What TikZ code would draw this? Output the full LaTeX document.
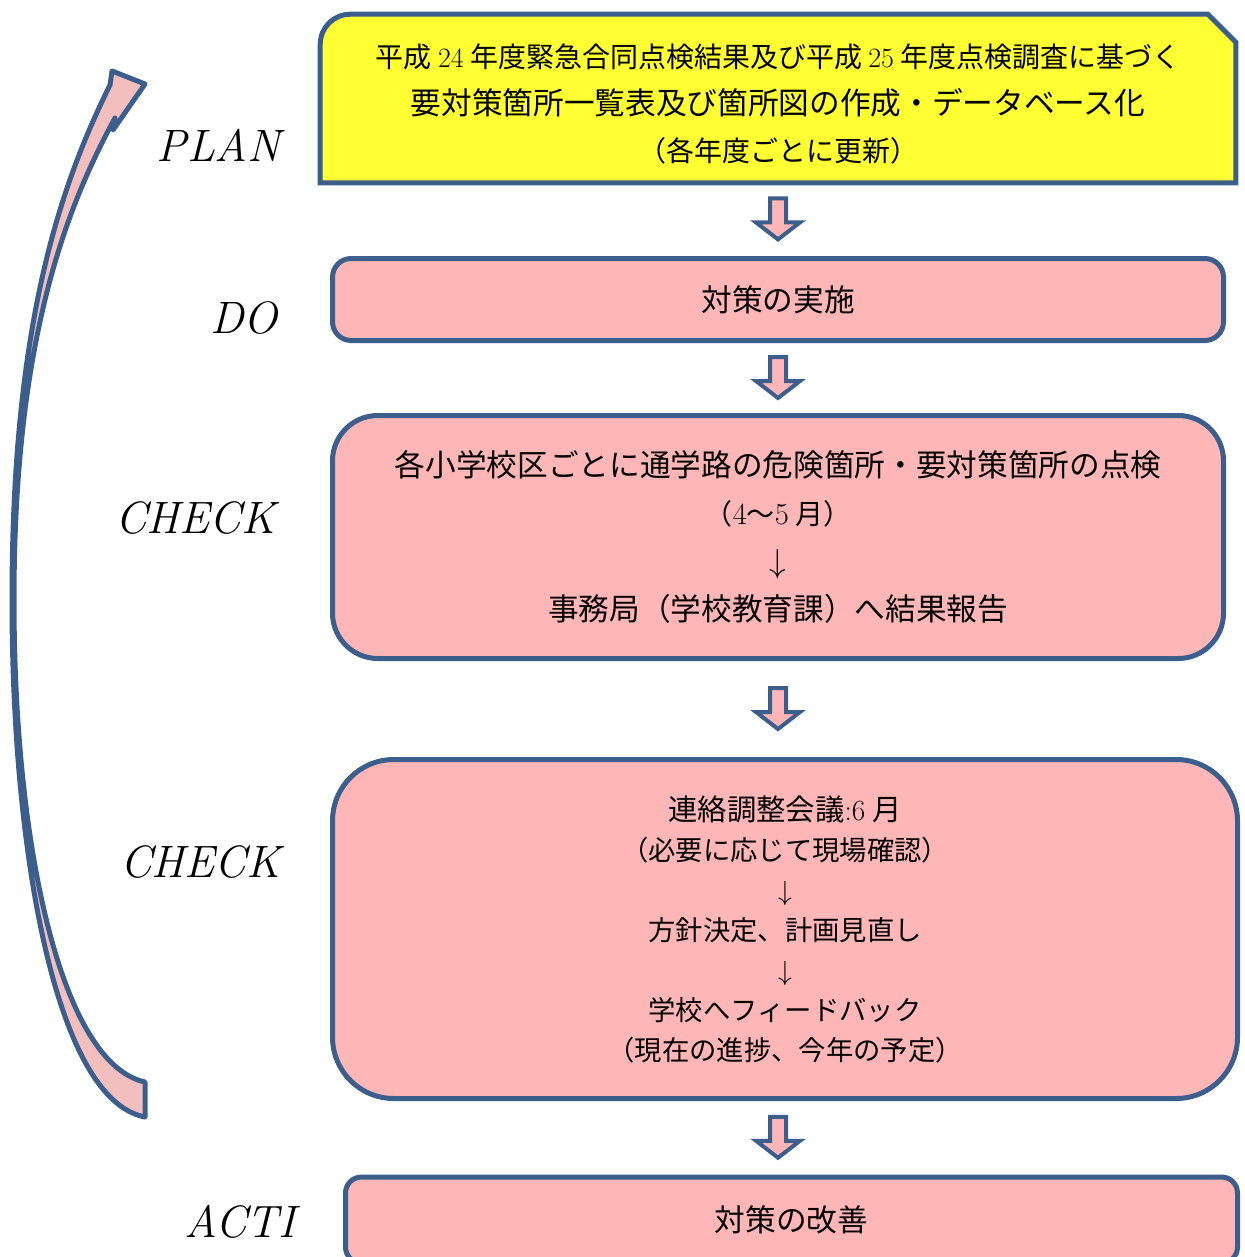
\documentclass[tikz,border=0pt]{standalone}
\usepackage{fontspec}
\newfontfamily\cjk{Noto Sans CJK JP}
\usepackage{tikz}
\usetikzlibrary{
  positioning,
  calc,
  backgrounds
}
\definecolor{lineblue}{RGB}{59,94,140}
\definecolor{boxpink}{RGB}{255,182,182}
\definecolor{planyellow}{RGB}{255,255,51}
\definecolor{looppink}{RGB}{243,190,190}
\tikzset{
  phase/.style={inner sep=0pt, anchor=east, font=\fontsize{34}{40}\selectfont\itshape},
  stage/.style={draw=lineblue, line width=3.75pt, fill=boxpink, align=center, inner sep=0pt,
    font=\cjk\fontsize{20.5}{30}\selectfont},
  cyclearrow/.style={draw=lineblue, line width=3.75pt, fill=looppink, line join=round},
  downarrow/.pic={
    \draw[draw=lineblue, line width=3pt, fill=boxpink]
      (-8,-21) -- (-8,3) -- (-22,3) -- (0,20) -- (22,3) -- (8,3) -- (8,-21) -- cycle;
  }
}

\begin{document}
\begin{tikzpicture}[x=0.75pt, y=-0.75pt]
  \useasboundingbox (0,0) rectangle (1245,1257);

  \node[minimum width=686.25pt, minimum height=126pt, inner sep=0pt] (plan) at (778,98.5) {};
  \node[align=center, font=\cjk\fontsize{21}{35.5}\selectfont] (plantext) at (778,104)
    {平成 {\rmfamily 24} 年度緊急合同点検結果及び平成 {\rmfamily 25} 年度点検調査に基づく\\
     {\fontsize{23}{35.5}\selectfont 要対策箇所一覧表及び箇所図の作成・データベース化}\\
     （各年度ごとに更新）};
  \begin{scope}[on background layer]
    \draw[draw=lineblue, line width=3.75pt, fill=planyellow]
      (plan.south west) -- ($(plan.north west)+(0,30)$)
      arc[start angle=180, end angle=270, radius=30]
      -- ($(plan.north east)+(-28,0)$) -- ($(plan.north east)+(0,28)$)
      -- (plan.south east) -- cycle;
  \end{scope}

  \node[stage, minimum width=668.25pt, minimum height=61.5pt, rounded corners=14pt,
    font=\cjk\fontsize{23}{30}\selectfont] (do) at (778,299.5) {対策の実施};
  \node[stage, minimum width=668.25pt, minimum height=182.25pt, rounded corners=34pt,
    font=\cjk\fontsize{23}{36}\selectfont] (chk1) at (778,537)
    {各小学校区ごとに通学路の危険箇所・要対策箇所の点検\\
     {\fontsize{21}{36}\selectfont （{\rmfamily\fontsize{23}{36}\selectfont 4}～{\rmfamily\fontsize{23}{36}\selectfont 5} 月）}\\
     $\downarrow$\\
     事務局（学校教育課）へ結果報告};
  \node[stage, minimum width=678.75pt, minimum height=254.25pt, rounded corners=46pt] (chk2) at (785,929)
    {{\fontsize{22}{30}\selectfont 連絡調整会議{\rmfamily :6} 月}\\
     （必要に応じて現場確認）\\
     $\downarrow$\\
     方針決定、計画見直し\\
     $\downarrow$\\
     学校へフィードバック\\
     （現在の進捗、今年の予定）};
  \node[stage, minimum width=669pt, minimum height=64.5pt, rounded corners=12pt,
    font=\cjk\fontsize{23}{30}\selectfont] (act) at (791.5,1220) {対策の改善};

  \foreach \a/\b in {plan/do, do/chk1, chk1/chk2, chk2/act} {
    \coordinate (m) at ($(\a.south)!0.5!(\b.north)$);
    \pic at (m -| plan.center) {downarrow};
  }

  \node[phase] (lplan) at (281,145) {PLAN};
  \node[phase] (ldo) at (278,318) {DO};
  \node[phase] (lchk1) at (276,518) {CHECK};
  \node[phase] (lchk2) at (281,862) {CHECK};
  \node[phase] (lact) at (296,1222) {ACTI};

  \draw[cyclearrow] (145,1117) .. controls (55,1100) and (12,850) .. (12,600)
    .. controls (12,330) and (58,190) .. (110,85)
    -- (112,71) -- (145,84) -- (113,130) -- (115,118)
    .. controls (66,208) and (14,340) .. (14,600)
    .. controls (14,850) and (62,1064) .. (145,1082) -- cycle;
\end{tikzpicture}
\end{document}
